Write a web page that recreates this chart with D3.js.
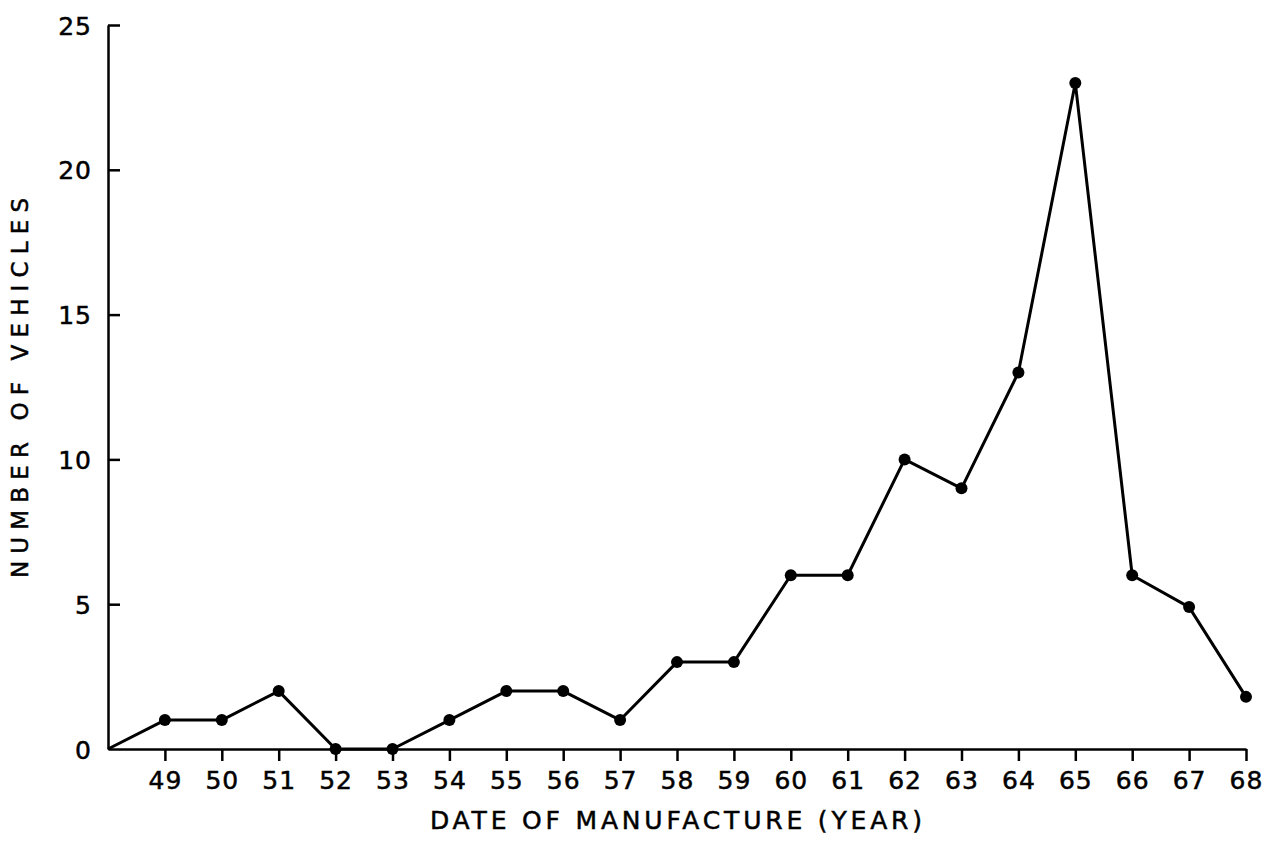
<!DOCTYPE html>
<html>
<head>
<meta charset="utf-8">
<script src="https://cdn.jsdelivr.net/npm/d3@7"></script>
<style>
  html, body { margin: 0; padding: 0; background: #fff; }
  svg { display: block; }
  text { font-family: "DejaVu Sans", "Liberation Sans", Arial, sans-serif; fill: #000; stroke: #000; stroke-width: 0.5px; }
</style>
</head>
<body>
<svg id="chart" width="1270" height="844"></svg>
<script>
// ---- data ----
const years = [49, 50, 51, 52, 53, 54, 55, 56, 57, 58, 59, 60, 61, 62, 63, 64, 65, 66, 67, 68];
const vehicles = [1, 1, 2, 0, 0, 1, 2, 2, 1, 3, 3, 6, 6, 10, 9, 13, 23, 6, 4.9, 1.8];
const lineStart = [48, 0];          // curve starts at the origin of the axes
const yTicks = [0, 5, 10, 15, 20, 25];
const xTicks = years;
const xTitle = "DATE OF MANUFACTURE (YEAR)";
const yTitle = "NUMBER OF VEHICLES";

// ---- layout ----
const svg = d3.select("#chart");
const x = d3.scaleLinear().domain([48, 68]).range([108, 1246]);
const y = d3.scaleLinear().domain([0, 25]).range([749, 25]);

// y axis (ticks point inward, to the right)
const yAxis = svg.append("g")
  .attr("transform", `translate(${x(48)},0)`)
  .call(d3.axisLeft(y).tickValues(yTicks).tickFormat(d3.format("d"))
    .tickSize(0).tickPadding(16));
yAxis.select(".domain").attr("stroke", "#000").attr("stroke-width", 2.5);
yAxis.selectAll(".tick line")
  .attr("x1", 0).attr("x2", 12)
  .attr("stroke", "#000").attr("stroke-width", 2.5)
  .filter(d => d === 0).remove();
yAxis.selectAll(".tick text")
  .style("font-size", "25px").style("letter-spacing", "1px")
  .attr("dy", "0.36em");

// x axis (ticks point downward)
const xAxis = svg.append("g")
  .attr("transform", `translate(0,${y(0)})`)
  .call(d3.axisBottom(x).tickValues(xTicks).tickFormat(d3.format("d"))
    .tickSizeInner(12).tickSizeOuter(0).tickPadding(10));
xAxis.select(".domain").attr("stroke", "#000").attr("stroke-width", 2.5);
xAxis.selectAll(".tick line").attr("stroke", "#000").attr("stroke-width", 2.5);
xAxis.selectAll(".tick text")
  .style("font-size", "25px").style("letter-spacing", "1px")
  .attr("dy", "0.71em");

// line
const pts = [lineStart].concat(years.map((yr, i) => [yr, vehicles[i]]));
svg.append("path")
  .datum(pts)
  .attr("fill", "none")
  .attr("stroke", "#000")
  .attr("stroke-width", 3)
  .attr("stroke-linejoin", "round")
  .attr("d", d3.line().x(d => x(d[0])).y(d => y(d[1])));

// markers
svg.append("g").selectAll("circle")
  .data(years.map((yr, i) => [yr, vehicles[i]]))
  .join("circle")
  .attr("cx", d => x(d[0]))
  .attr("cy", d => y(d[1]))
  .attr("r", 6)
  .attr("fill", "#000");

// titles
svg.append("text")
  .attr("x", 676).attr("y", 829)
  .attr("text-anchor", "middle")
  .attr("textLength", 492).attr("lengthAdjust", "spacing")
  .style("font-size", "25px")
  .text(xTitle);

svg.append("text")
  .attr("transform", "translate(28,388) rotate(-90)")
  .attr("text-anchor", "middle")
  .attr("textLength", 380).attr("lengthAdjust", "spacing")
  .style("font-size", "23px")
  .text(yTitle);
</script>
</body>
</html>
